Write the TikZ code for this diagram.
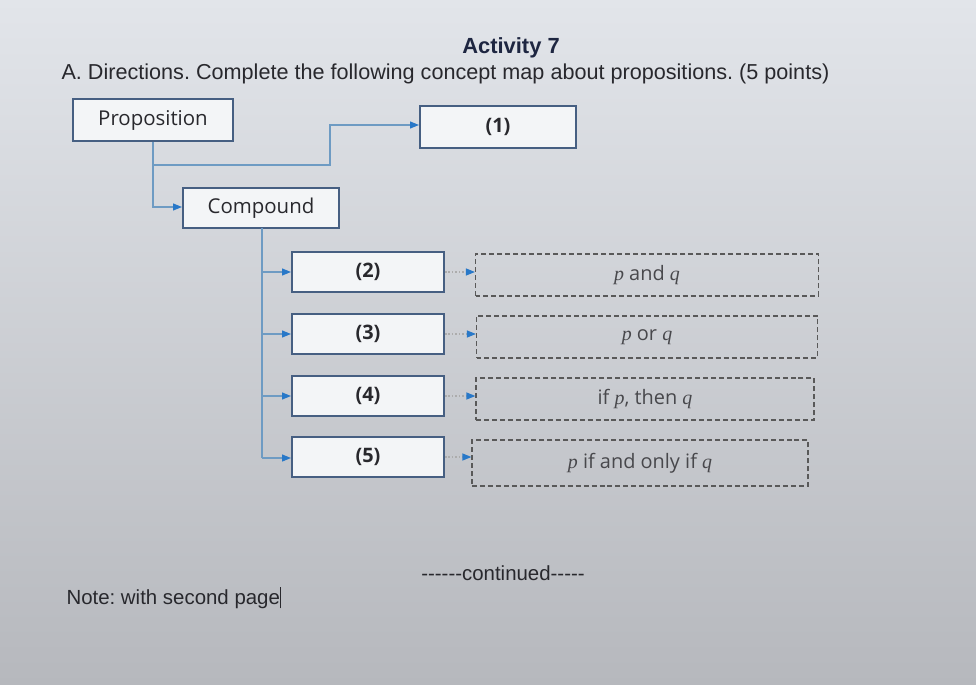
\documentclass[tikz,border=0pt]{standalone}
\usepackage{fontspec}
\setmainfont{Liberation Sans}
\newfontfamily\boxfont{Open Sans}
\newfontfamily\pqfont{Liberation Serif}
\usetikzlibrary{arrows.meta}
\definecolor{bgtop}{RGB}{226,229,234}
\definecolor{bgbot}{RGB}{182,184,189}
\definecolor{boxline}{RGB}{70,95,130}
\definecolor{conn}{RGB}{110,155,195}
\definecolor{tipc}{RGB}{40,120,200}
\definecolor{txt}{RGB}{40,40,45}
\definecolor{navy}{RGB}{30,38,65}
\frenchspacing
\newcommand{\hy}{-\kern0pt }
\newcommand{\pv}[1]{{\pqfont\itshape #1}}
\begin{document}
\begin{tikzpicture}[x=1bp,y=-1bp,
  solidbox/.style={draw=boxline,line width=2bp,fill=white!60!bgtop,minimum height=42bp,inner sep=0pt,font=\boxfont\fontsize{20.5}{24}\selectfont,text=txt},
  numbox/.style={solidbox,font=\boxfont\bfseries\fontsize{20}{24}\selectfont},
  dashbox/.style={draw=gray!70!black,dash pattern=on 5pt off 3pt,line width=1.2pt,minimum height=42bp,inner sep=0pt,font=\boxfont\fontsize{20}{24}\selectfont,text=txt!85!white},
  link/.style={draw=conn,line width=1.2pt,-{Triangle[length=9pt,width=7pt,fill=tipc,color=tipc]}},
  dotlink/.style={draw=gray!65,line width=1.2pt,dash pattern=on 1.5pt off 2pt,-{Triangle[length=9pt,width=7pt,fill=tipc,color=tipc]}},
  tree/.style={draw=conn,line width=1.2pt}]
\shade[top color=bgtop,bottom color=bgbot] (0,0) rectangle (976,685);
\useasboundingbox (0,0) rectangle (976,685);
\node[font=\bfseries\fontsize{22}{26}\selectfont,text=navy] (title) at (511,48) {Activity 7};
\node[font=\fontsize{21.7}{26}\selectfont,text=txt,anchor=west] (dir) at (58,74) {A. Directions. Complete the following concept map about propositions. (5 points)};
\node[solidbox,minimum width=160bp] (prop) at (153,120) {Proposition};
\node[numbox,minimum width=156bp] (one) at (498,127) {(1)};
\node[solidbox,minimum width=156bp,minimum height=40bp] (comp) at (261,208) {Compound};
\foreach \n/\y/\lab in {two/272/(2),three/334/(3),four/396/(4),five/457/(5)}{
  \node[numbox,minimum width=152bp,minimum height=40bp] (\n) at (368,\y) {\lab};
}
\node[dashbox,minimum width=343bp] (d2) at (647,275) {\pv{p} and \pv{q}};
\node[dashbox,minimum width=341bp] (d3) at (647,337) {\pv{p} or \pv{q}};
\node[dashbox,minimum width=338bp] (d4) at (645,399) {if \pv{p}, then \pv{q}};
\node[dashbox,minimum width=336bp,minimum height=46bp] (d5) at (640,463) {\pv{p} if and only if \pv{q}};
\node[font=\fontsize{20.5}{24}\selectfont,text=txt] (cont) at (503,573) {\hy\hy\hy\hy\hy\hy continued\hy\hy\hy\hy\hy};
\node[font=\fontsize{20.5}{24}\selectfont,text=txt,anchor=west] (note) at (63,598) {Note: with second page\rule[-4pt]{1.3pt}{21pt}};
% connectors
\coordinate (j1) at (153,165);
\draw[link] (prop.south -| j1) -- (j1) -- (330,165) -- (330,125) -- (one.west |- 0,125);
\draw[link] (j1) -- (153,207) -- (comp.west |- 0,207);
\coordinate (cb) at (262,228);
\draw[tree] (cb) -- (262,458);
\foreach \n/\y in {two/272,three/334,four/396,five/458}{
  \draw[link] (262,\y) -- (\n.west |- 0,\y);
}
\draw[dotlink] (two.east) -- (d2.west |- two.east);
\draw[dotlink] (three.east) -- (d3.west |- three.east);
\draw[dotlink] (four.east) -- (d4.west |- four.east);
\draw[dotlink] (five.east) -- (d5.west |- five.east);
\end{tikzpicture}
\end{document}
